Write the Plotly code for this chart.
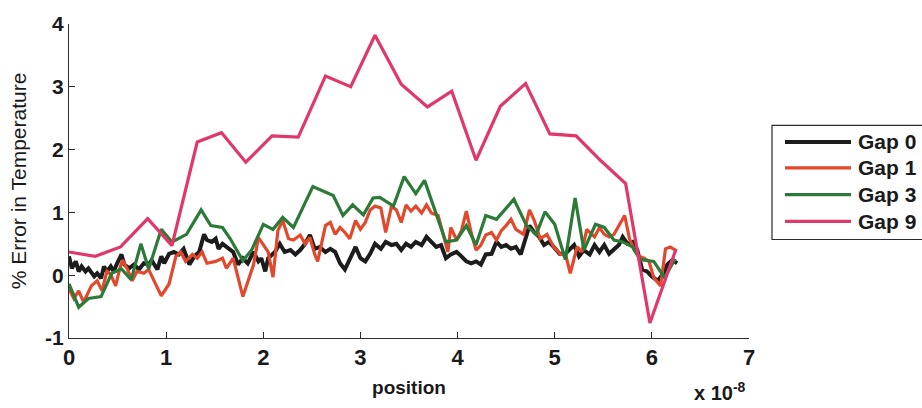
import plotly.graph_objects as go

# Position values are in units of 1e-8 (see the "x 10^-8" axis multiplier)
series_names = ["Gap 0", "Gap 1", "Gap 3", "Gap 9"]
series_colors = ["#1c1c1c", "#e2482b", "#2c7a38", "#e0386b"]
series_widths = [4, 3.2, 3.2, 3.2]

gap0_x = [0, 0.03, 0.07, 0.1, 0.13, 0.17, 0.2, 0.26, 0.29, 0.33, 0.36, 0.39, 0.43, 0.46,
          0.49, 0.54, 0.57, 0.62, 0.67, 0.72, 0.77, 0.82, 0.85, 0.91, 0.95, 0.98, 1.03,
          1.08, 1.13, 1.18, 1.24, 1.29, 1.34, 1.39, 1.42, 1.47, 1.51, 1.54, 1.58, 1.62,
          1.69, 1.74, 1.79, 1.84, 1.9, 1.95, 1.98, 2.02, 2.05, 2.12, 2.17, 2.22, 2.28,
          2.33, 2.38, 2.43, 2.48, 2.53, 2.58, 2.64, 2.69, 2.74, 2.79, 2.84, 2.89, 2.95,
          3.0, 3.05, 3.1, 3.15, 3.21, 3.26, 3.32, 3.37, 3.42, 3.47, 3.52, 3.57, 3.63,
          3.68, 3.73, 3.78, 3.83, 3.88, 3.93, 3.99, 4.04, 4.09, 4.14, 4.19, 4.24, 4.29,
          4.35, 4.4, 4.45, 4.5, 4.55, 4.6, 4.65, 4.69, 4.74, 4.79, 4.84, 4.89, 4.94,
          4.99, 5.05, 5.1, 5.15, 5.2, 5.25, 5.3, 5.36, 5.41, 5.46, 5.51, 5.56, 5.61,
          5.66, 5.7, 5.75, 5.8, 5.85, 5.9, 5.95, 6.0, 6.06, 6.11, 6.16, 6.21, 6.26]
gap0_y = [0.3, 0.11, 0.22, 0.06, 0.14, 0.06, 0.11, -0.02, 0.03, -0.05, 0.14, 0.06, 0.14, 0.06,
          0.17, 0.33, 0.17, 0.11, 0.17, 0.09, 0.19, 0.17, 0.24, 0.09, 0.3, 0.19, 0.34,
          0.37, 0.33, 0.42, 0.17, 0.3, 0.37, 0.65, 0.56, 0.53, 0.58, 0.42, 0.5, 0.45,
          0.37, 0.17, 0.27, 0.19, 0.37, 0.22, 0.27, 0.06, 0.27, 0.37, 0.5, 0.37, 0.4,
          0.33, 0.4, 0.5, 0.64, 0.42, 0.45, 0.37, 0.42, 0.37, 0.19, 0.09, 0.24, 0.45,
          0.27, 0.22, 0.34, 0.5, 0.42, 0.53, 0.48, 0.5, 0.4, 0.5, 0.45, 0.53, 0.48,
          0.61, 0.53, 0.45, 0.48, 0.27, 0.33, 0.37, 0.3, 0.22, 0.19, 0.22, 0.17, 0.33,
          0.34, 0.53, 0.45, 0.48, 0.42, 0.45, 0.33, 0.56, 0.79, 0.68, 0.61, 0.48, 0.53,
          0.45, 0.34, 0.33, 0.4, 0.48, 0.3, 0.4, 0.33, 0.48, 0.37, 0.48, 0.34, 0.42,
          0.48, 0.61, 0.5, 0.53, 0.4, 0.09, 0.06, -0.02, -0.09, 0.01, 0.17, 0.24, 0.19]

gap1_x = [0, 0.05, 0.1, 0.15, 0.23, 0.29, 0.34, 0.39, 0.43, 0.48, 0.52, 0.55, 0.6, 0.65,
          0.7, 0.77, 0.82, 0.95, 1.03, 1.1, 1.15, 1.2, 1.27, 1.32, 1.37, 1.42, 1.51,
          1.58, 1.62, 1.69, 1.79, 1.9, 1.95, 2.0, 2.05, 2.1, 2.15, 2.2, 2.26, 2.31,
          2.38, 2.43, 2.48, 2.53, 2.56, 2.64, 2.69, 2.74, 2.79, 2.84, 2.89, 2.95, 3.0,
          3.05, 3.1, 3.15, 3.21, 3.26, 3.32, 3.37, 3.42, 3.47, 3.52, 3.57, 3.63, 3.68,
          3.73, 3.8, 3.85, 3.9, 3.93, 3.99, 4.04, 4.09, 4.14, 4.19, 4.24, 4.29, 4.35,
          4.4, 4.45, 4.5, 4.55, 4.6, 4.68, 4.74, 4.79, 4.85, 4.92, 4.99, 5.06, 5.11,
          5.16, 5.23, 5.28, 5.33, 5.41, 5.46, 5.51, 5.56, 5.61, 5.66, 5.72, 5.77,
          5.82, 5.87, 5.92, 5.97, 6.02, 6.09, 6.14, 6.19, 6.24]
gap1_y = [-0.22, -0.37, -0.25, -0.43, -0.17, -0.09, -0.25, 0.06, 0.01, -0.17, 0.09, 0.24,
          0.1, -0.09, 0.06, 0.03, 0.09, -0.33, -0.14, 0.3, 0.37, 0.22, 0.33, 0.27, 0.37,
          0.19, 0.22, 0.27, 0.11, 0.27, -0.34, 0.17, 0.6, 0.48, 0.37, -0.03, 0.71, 0.87,
          0.58, 0.56, 0.64, 0.5, 0.6, 0.33, 0.22, 0.79, 0.84, 0.65, 0.76, 0.68, 0.58,
          0.87, 0.73, 0.84, 1.04, 1.1, 1.07, 0.68, 1.1, 1.04, 0.84, 1.12, 1.02, 1.1,
          0.99, 1.12, 0.99, 0.95, 0.68, 0.37, 0.76, 0.56, 0.71, 1.02, 0.68, 0.4, 0.48,
          0.64, 0.68, 0.56, 0.71, 0.79, 0.89, 0.73, 0.65, 1.04, 0.87, 0.58, 0.65, 0.45,
          0.33, 0.34, 0.03, 0.45, 0.37, 0.73, 0.61, 0.76, 0.65, 0.61, 0.65, 0.79, 0.95,
          0.58, 0.4, 0.3, 0.27, 0.22, -0.04, -0.17, 0.42, 0.45, 0.4]

gap3_x = [0, 0.1, 0.2, 0.33, 0.44, 0.54, 0.64, 0.74, 0.82, 0.95, 1.06, 1.21, 1.36, 1.46,
          1.58, 1.66, 1.79, 1.88, 2.0, 2.1, 2.2, 2.31, 2.51, 2.72, 2.82, 2.92, 3.03,
          3.13, 3.2, 3.34, 3.45, 3.57, 3.66, 3.88, 3.99, 4.09, 4.19, 4.29, 4.4, 4.58,
          4.71, 4.81, 4.9, 5.0, 5.11, 5.21, 5.3, 5.42, 5.51, 5.61, 5.7, 5.8, 5.88,
          6.02, 6.13, 6.24]
gap3_y = [-0.14, -0.51, -0.37, -0.34, 0.03, 0.1, -0.07, 0.5, 0.1, 0.73, 0.53, 0.65, 1.04,
          0.79, 0.76, 0.58, 0.23, 0.4, 0.81, 0.73, 0.92, 0.76, 1.41, 1.27, 0.95, 1.12,
          0.96, 1.23, 1.24, 1.1, 1.57, 1.3, 1.51, 0.53, 0.56, 0.79, 0.48, 0.95, 0.89,
          1.21, 0.79, 0.65, 1.01, 0.81, 0.25, 1.23, 0.4, 0.81, 0.76, 0.56, 0.53, 0.45,
          0.25, 0.22, -0.04, 0.26]

gap9_x = [0, 0.27, 0.53, 0.81, 1.06, 1.32, 1.57, 1.82, 2.09, 2.36, 2.64, 2.9, 3.15, 3.42,
          3.69, 3.94, 4.19, 4.44, 4.7, 4.95, 5.22, 5.47, 5.73, 5.98, 6.25]
gap9_y = [0.37, 0.3, 0.45, 0.9, 0.47, 2.12, 2.27, 1.8, 2.22, 2.2, 3.17, 3.0, 3.82, 3.04,
          2.68, 2.93, 1.83, 2.69, 3.05, 2.25, 2.22, 1.83, 1.46, -0.76, 0.42]

xs = [gap0_x, gap1_x, gap3_x, gap9_x]
ys = [gap0_y, gap1_y, gap3_y, gap9_y]

x_ticks = [0, 1, 2, 3, 4, 5, 6, 7]
y_ticks = [-1, 0, 1, 2, 3, 4]

W, H = 922, 408
ML, MR, MT, MB = 69, 173, 16, 70
PW, PH = W - ML - MR, H - MT - MB
TEXT = "#1a1a1a"
FONT = "Liberation Sans"


def px(xp):
    return (xp - ML) / PW


def py(yp):
    return (H - MB - yp) / PH


fig = go.Figure()
for name, color, lw, x, y in zip(series_names, series_colors, series_widths, xs, ys):
    fig.add_trace(go.Scatter(x=x, y=y, mode="lines", name=name,
                             line=dict(color=color, width=lw), showlegend=False))

axis_common = dict(showgrid=False, zeroline=False, showline=True, linecolor="#2b2b33",
                   linewidth=1, ticks="inside", ticklen=6, tickcolor="#2b2b33",
                   mirror=False)

fig.update_xaxes(range=[0, 7], tickvals=x_ticks, ticktext=[str(t) for t in x_ticks],
                 tickfont=dict(family=FONT, size=22, color=TEXT, weight="bold"),
                 title=dict(text="<b>position</b>", standoff=11,
                            font=dict(family=FONT, size=19, color=TEXT)),
                 **axis_common)
fig.update_yaxes(range=[-1, 4], tickvals=y_ticks, ticktext=[str(t) for t in y_ticks],
                 tickfont=dict(family=FONT, size=21, color=TEXT, weight="bold"),
                 title=dict(text="% Error in Temperature", standoff=12,
                            font=dict(family=FONT, size=21, color=TEXT)),
                 **axis_common)

# axis multiplier
fig.add_annotation(x=px(692), y=py(393), xref="paper", yref="paper",
                   text="<b>x 10<sup>-8</sup></b>", showarrow=False,
                   xanchor="left", yanchor="middle",
                   font=dict(family=FONT, size=20, color=TEXT))

# legend box
fig.add_shape(type="rect", xref="paper", yref="paper",
              x0=px(772), x1=px(935), y0=py(237), y1=py(120),
              line=dict(color="#2b2b2b", width=1.2), fillcolor="white", layer="above")
legend_rows = [137, 163.5, 191, 218.5]
for name, color, lw, yr in zip(series_names, series_colors, series_widths, legend_rows):
    fig.add_shape(type="line", xref="paper", yref="paper",
                  x0=px(785), x1=px(851), y0=py(yr), y1=py(yr),
                  line=dict(color=color, width=lw), layer="above")
    fig.add_annotation(x=px(856), y=py(yr), xref="paper", yref="paper",
                       text="<b>" + name + "</b>", showarrow=False,
                       xanchor="left", yanchor="middle",
                       font=dict(family=FONT, size=21, color=TEXT))

fig.update_layout(width=W, height=H, margin=dict(l=ML, r=MR, t=MT, b=MB),
                  paper_bgcolor="white", plot_bgcolor="white", showlegend=False)

fig.write_html("out.html")
